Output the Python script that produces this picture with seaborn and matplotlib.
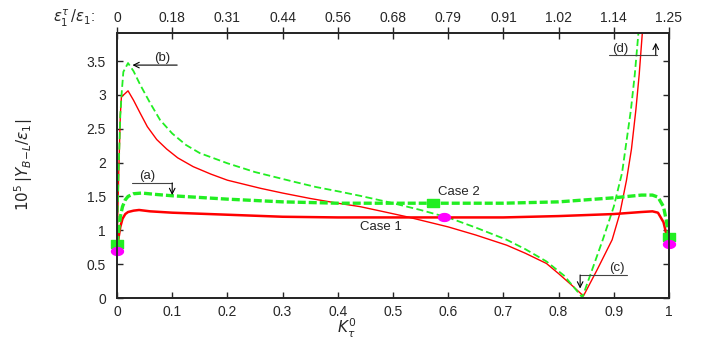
import matplotlib
matplotlib.use('Agg')
import matplotlib.pyplot as plt
import seaborn as sns
import numpy as np
import pandas as pd

# values
k_case1 = [0, 0.003, 0.006, 0.01, 0.015, 0.02, 0.03, 0.04, 0.06, 0.1, 0.2, 0.3, 0.4,
           0.5, 0.6, 0.7, 0.8, 0.9, 0.95, 0.97, 0.98, 0.99, 0.995, 1.0]
y_case1 = [0.70, 0.90, 1.05, 1.17, 1.24, 1.27, 1.29, 1.30, 1.28, 1.26, 1.23, 1.20, 1.19,
           1.19, 1.19, 1.19, 1.21, 1.24, 1.27, 1.28, 1.26, 1.12, 0.95, 0.80]

k_case2 = [0, 0.003, 0.006, 0.01, 0.015, 0.02, 0.03, 0.045, 0.07, 0.1, 0.2, 0.3, 0.4,
           0.5, 0.6, 0.7, 0.8, 0.9, 0.95, 0.97, 0.98, 0.99, 0.995, 1.0]
y_case2 = [0.80, 1.00, 1.20, 1.35, 1.45, 1.50, 1.54, 1.55, 1.53, 1.51, 1.46, 1.42, 1.40,
           1.40, 1.40, 1.40, 1.42, 1.48, 1.52, 1.52, 1.49, 1.35, 1.15, 0.90]

k_thin1 = [0, 0.003, 0.006, 0.008, 0.012, 0.02, 0.03, 0.042, 0.055, 0.072, 0.09, 0.11,
           0.138, 0.17, 0.2, 0.26, 0.3, 0.35, 0.4, 0.44, 0.48, 0.525, 0.56, 0.6, 0.65,
           0.706, 0.74, 0.778, 0.8, 0.825, 0.845, 0.87, 0.897, 0.911, 0.923, 0.932,
           0.94, 0.946, 0.952]
y_thin1 = [0.70, 1.80, 2.70, 2.97, 3.00, 3.06, 2.92, 2.73, 2.53, 2.34, 2.20, 2.07,
           1.94, 1.83, 1.74, 1.62, 1.55, 1.47, 1.40, 1.35, 1.28, 1.20, 1.13, 1.05, 0.93,
           0.78, 0.66, 0.51, 0.36, 0.18, 0.03, 0.42, 0.86, 1.25, 1.74, 2.20,
           2.78, 3.30, 3.95]

k_thin2 = [0, 0.003, 0.006, 0.0085, 0.0115, 0.02, 0.03, 0.042, 0.06, 0.078, 0.1, 0.125,
           0.15, 0.2, 0.25, 0.319, 0.36, 0.404, 0.44, 0.495, 0.55, 0.603, 0.65, 0.706,
           0.74, 0.778, 0.81, 0.843, 0.86, 0.88, 0.90, 0.915, 0.931, 0.938, 0.945]
y_thin2 = [0.80, 1.90, 2.70, 3.03, 3.34, 3.47, 3.35, 3.15, 2.88, 2.63, 2.43, 2.26,
           2.14, 1.99, 1.86, 1.72, 1.64, 1.57, 1.51, 1.41, 1.30, 1.18, 1.04, 0.86,
           0.72, 0.54, 0.33, 0.01, 0.40, 0.86, 1.35, 1.85, 2.78, 3.30, 3.95]

sq_k = [0, 0.572, 1.0]
sq_y = [0.80, 1.40, 0.90]
el_k = [0, 0.592, 1.0]
el_y = [0.70, 1.19, 0.80]

top_labels = ['0', '0.18', '0.31', '0.44', '0.56', '0.68', '0.79', '0.91', '1.02', '1.14', '1.25']
x_ticks = [0, 0.1, 0.2, 0.3, 0.4, 0.5, 0.6, 0.7, 0.8, 0.9, 1]
y_ticks = [0, 0.5, 1, 1.5, 2, 2.5, 3, 3.5]

sns.set_style('ticks')
plt.rcParams['font.family'] = ['Liberation Sans', 'DejaVu Sans']
plt.rcParams['mathtext.fontset'] = 'dejavusans'

RED = '#ff0000'
GREEN = '#22ee22'

fig = plt.figure(figsize=(7.08, 3.39), dpi=100)
ax = fig.add_axes([117/708, 41/339, 552/708, 265/339])

d1 = pd.DataFrame({'k': k_thin1, 'y': y_thin1})
d2 = pd.DataFrame({'k': k_thin2, 'y': y_thin2})
c1 = pd.DataFrame({'k': k_case1, 'y': y_case1})
c2 = pd.DataFrame({'k': k_case2, 'y': y_case2})

sns.lineplot(data=d1, x='k', y='y', ax=ax, color=RED, lw=1.0, sort=False, estimator=None)
sns.lineplot(data=d2, x='k', y='y', ax=ax, color=GREEN, lw=1.3, sort=False, estimator=None)
ax.lines[-1].set_dashes([3.9, 1.9])
sns.lineplot(data=c1, x='k', y='y', ax=ax, color=RED, lw=1.8, sort=False, estimator=None)
sns.lineplot(data=c2, x='k', y='y', ax=ax, color=GREEN, lw=2.4, sort=False, estimator=None)
ax.lines[-1].set_dashes([2.4, 0.9])

# wide rectangle and ellipse markers
t = np.linspace(0, 2*np.pi, 40)
ell = list(zip(np.cos(t), 0.66*np.sin(t)))
rect = [(-1, -0.66), (1, -0.66), (1, 0.66), (-1, 0.66), (-1, -0.66)]
ax.plot(sq_k, sq_y, ls='none', marker=rect, ms=8.6, color=GREEN, mec=GREEN, clip_on=False, zorder=5)
ax.plot(el_k, el_y, ls='none', marker=ell, ms=8.6, color='#ff00ff', mec='#ff00ff', clip_on=False, zorder=6)

ax.text(0.62, 1.57, 'Case 2', fontsize=9.5, ha='center', va='center')
ax.text(0.478, 1.05, 'Case 1', fontsize=9.5, ha='center', va='center')

ann = dict(color='#444444', lw=0.8)
arw = dict(arrowstyle='->', color='black', lw=0.8, shrinkA=0, shrinkB=0)
# (a)
ax.text(0.055, 1.80, '(a)', fontsize=9.5, ha='center', va='center')
ax.plot([0.027, 0.10], [1.70, 1.70], **ann)
ax.annotate('', xy=(0.10, 1.52), xytext=(0.10, 1.70), arrowprops=arw)
# (b)
ax.text(0.082, 3.55, '(b)', fontsize=9.5, ha='center', va='center')
ax.annotate('', xy=(0.028, 3.44), xytext=(0.109, 3.44), arrowprops=arw)
# (c)
ax.text(0.905, 0.44, '(c)', fontsize=9.5, ha='center', va='center')
ax.plot([0.839, 0.924], [0.34, 0.34], **ann)
ax.annotate('', xy=(0.839, 0.14), xytext=(0.839, 0.34), arrowprops=arw)
# (d)
ax.text(0.911, 3.68, '(d)', fontsize=9.5, ha='center', va='center')
ax.plot([0.891, 0.978], [3.59, 3.59], **ann)
ax.annotate('', xy=(0.976, 3.77), xytext=(0.976, 3.59), arrowprops=arw)

ax.set_xlim(0, 1)
ax.set_ylim(0, 3.914)
ax.set_xticks(x_ticks)
ax.set_xticklabels(['%g' % v for v in x_ticks])
ax.set_yticks(y_ticks)
ax.set_yticklabels(['%g' % v for v in y_ticks])
ax.tick_params(axis='both', direction='in', length=4, width=1, labelsize=10, right=True, top=False)
ax.tick_params(axis='y', pad=8)
ax.tick_params(axis='x', pad=5)
ax.set_xlabel('')
ax.set_ylabel('')
for s in ['left', 'right', 'bottom', 'top']:
    ax.spines[s].set_linewidth(1.3)
    ax.spines[s].set_visible(True)

top = ax.twiny()
top.set_xlim(0, 1)
top.set_xticks(x_ticks)
top.set_xticklabels(top_labels)
top.tick_params(axis='x', direction='inout', length=8, width=1, labelsize=10, pad=2)
for s in ['left', 'right', 'bottom', 'top']:
    top.spines[s].set_linewidth(1.3)

fig.text(0.104, 0.947, r'$\varepsilon_1^\tau\,/\varepsilon_1$:', fontsize=10.5, ha='center', va='center')
fig.text(0.49, 0.03, r'$K_\tau^0$', fontsize=11, ha='center', va='center')
fig.text(0.034, 0.513, r'$10^5\,|Y_{B\mathrm{-}L}/\varepsilon_1|$', fontsize=11,
         rotation=90, ha='center', va='center')

fig.savefig('out.png', dpi=100)
